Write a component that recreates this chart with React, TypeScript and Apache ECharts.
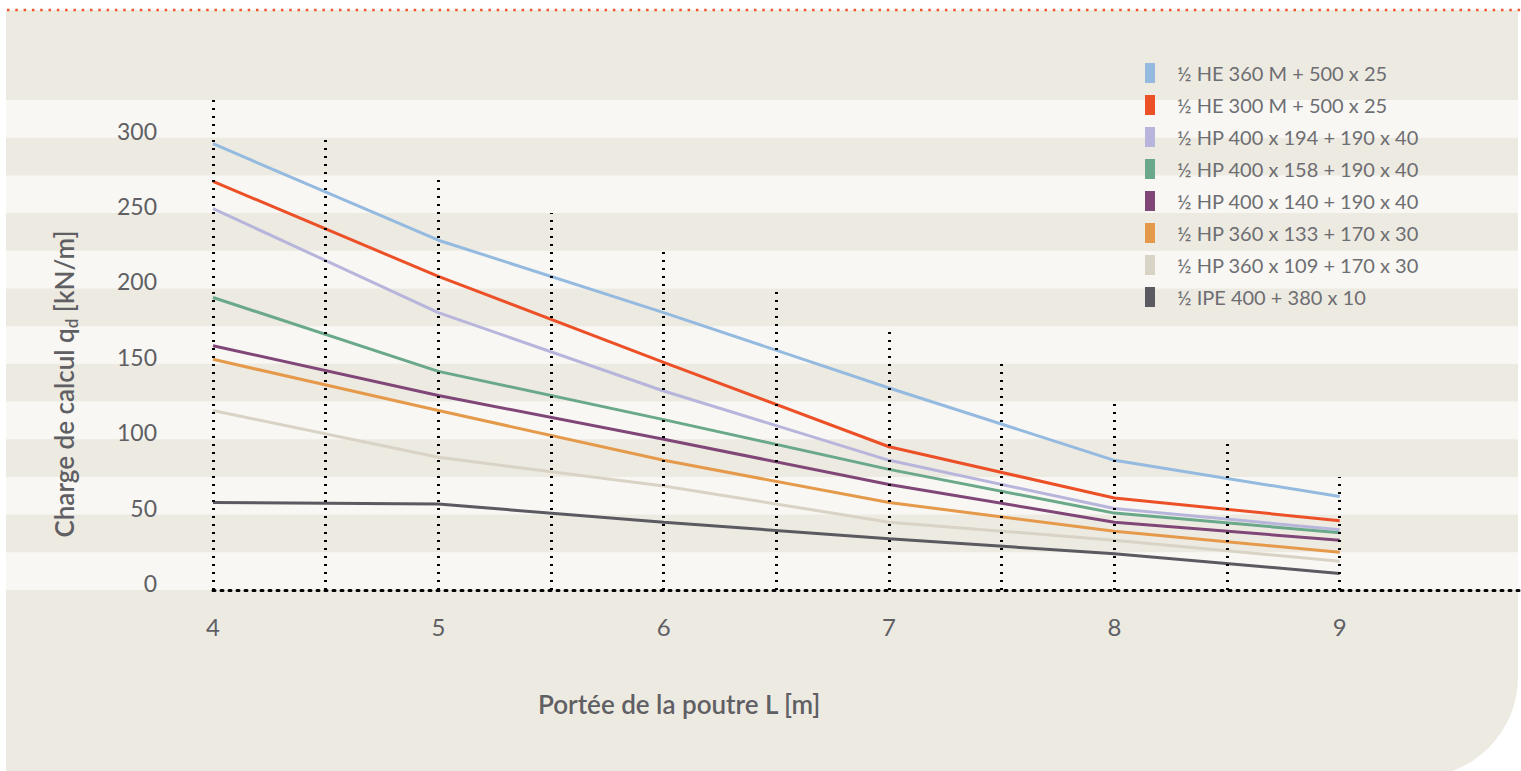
import React, { useEffect, useRef } from "react";
import * as echarts from "echarts";

const spans = [4, 5, 6, 7, 8, 9];
const seriesNames = [
  "½ HE 360 M + 500 x 25",
  "½ HE 300 M + 500 x 25",
  "½ HP 400 x 194 + 190 x 40",
  "½ HP 400 x 158 + 190 x 40",
  "½ HP 400 x 140 + 190 x 40",
  "½ HP 360 x 133 + 170 x 30",
  "½ HP 360 x 109 + 170 x 30",
  "½ IPE 400 + 380 x 10",
];
const he360 = [296, 232, 184, 134, 86, 62];
const he300 = [271, 208, 151, 95, 61, 46];
const hp194 = [253, 184, 132, 86, 54, 40];
const hp158 = [194, 145, 113, 80, 51, 38];
const hp140 = [162, 129, 100, 70, 45, 33];
const hp133 = [153, 119, 86, 58, 39, 25];
const hp109 = [119, 88, 69, 45, 33, 19];
const ipe400 = [58, 57, 45, 34, 24, 11];
const seriesValues = [he360, he300, hp194, hp158, hp140, hp133, hp109, ipe400];
const seriesColors = ["#94bae0", "#ec5027", "#b8b5dc", "#6aa88a", "#7f4677", "#e59a4b", "#d9d3c6", "#5b5a60"];

const dropX = [4, 4.5, 5, 5.5, 6, 6.5, 7, 7.5, 8, 8.5, 9];
const dropTop = [325, 300, 275, 250, 225, 200, 175, 150, 125, 100, 75];

const FONT = "Lato, 'Open Sans', sans-serif";
const TXT = "#5f5f64";

export default function App() {
  const ref = useRef<HTMLDivElement>(null);
  useEffect(() => {
    if (!ref.current) return;
    const chart = echarts.init(ref.current, undefined, { renderer: "svg" });
    const lineSeries = seriesNames.map((name, i) => ({
      name,
      type: "line",
      xAxisIndex: 0,
      yAxisIndex: 0,
      data: spans.map((x, j) => [x, seriesValues[i][j]]),
      symbol: "none",
      smooth: false,
      z: 3,
      lineStyle: { color: seriesColors[i], width: 3 },
      itemStyle: { color: seriesColors[i] },
      emphasis: { disabled: true },
    }));
    const dropSeries = {
      name: "drops",
      type: "line",
      xAxisIndex: 0,
      yAxisIndex: 0,
      data: [],
      symbol: "none",
      z: 4,
      markLine: {
        silent: true,
        symbol: "none",
        label: { show: false },
        lineStyle: { color: "#000", width: 3, type: [2, 6] },
        data: dropX.map((x, i) => [{ coord: [x, 0] }, { coord: [x, dropTop[i]] }]),
      },
    };
    chart.setOption({
      animation: false,
      backgroundColor: "transparent",
      textStyle: { fontFamily: FONT },
      grid: [
        { left: 213, right: 1, top: 100, bottom: 181 },
        { left: 6, right: 3, top: 100, bottom: 181 },
      ],
      xAxis: [
        {
          gridIndex: 0,
          type: "value",
          min: 4,
          max: 9.8,
          interval: 1,
          axisLine: { show: true, lineStyle: { color: "#000", width: 3, type: [2, 6] } },
          axisTick: { show: false },
          splitLine: { show: false },
          axisLabel: { color: TXT, fontSize: 24, fontFamily: FONT, margin: 24, showMaxLabel: false },
        },
        { gridIndex: 1, type: "value", min: 0, max: 1, show: false },
      ],
      yAxis: [
        {
          gridIndex: 0,
          type: "value",
          min: 0,
          max: 325,
          interval: 25,
          axisLine: { show: false },
          axisTick: { show: false },
          splitLine: { show: false },
          axisLabel: {
            color: TXT,
            fontSize: 23,
            fontFamily: FONT,
            margin: 56,
            verticalAlign: "bottom",
            lineHeight: 14,
            formatter: (v: number) => (v % 50 === 0 ? String(v) : ""),
          },
        },
        {
          gridIndex: 1,
          type: "value",
          min: 0,
          max: 325,
          interval: 25,
          axisLine: { show: false },
          axisTick: { show: false },
          axisLabel: { show: false },
          splitLine: { show: false },
          splitArea: { show: true, areaStyle: { color: ["#f8f7f3", "rgba(0,0,0,0)"] } },
        },
      ],
      legend: {
        orient: "vertical",
        left: 1140,
        top: 58,
        itemWidth: 10,
        itemHeight: 20,
        itemGap: 12,
        icon: "rect",
        data: seriesNames,
        selectedMode: false,
        textStyle: { color: "#6e6e72", fontSize: 20, fontFamily: FONT, fontWeight: 400, padding: [0, 0, 0, 17] },
      },
      graphic: [
        {
          type: "line",
          silent: true,
          z: 100,
          shape: { x1: 7, y1: 10, x2: 1521, y2: 10 },
          style: { stroke: "#f0562a", lineWidth: 2.5, lineDash: [2.5, 5.8] },
        },
        {
          type: "text",
          silent: true,
          z: 100,
          x: 538,
          y: 704,
          style: {
            text: "Portée de la poutre L [m]",
            fill: TXT,
            fontSize: 26,
            fontWeight: 600,
            fontFamily: FONT,
            textAlign: "left",
            textVerticalAlign: "middle",
          },
        },
        {
          type: "text",
          silent: true,
          z: 100,
          x: 64,
          y: 384,
          rotation: Math.PI / 2,
          style: {
            text: "{a|Charge de calcul q}{s|d}{a| [kN/m]}",
            textAlign: "center",
            textVerticalAlign: "middle",
            rich: {
              a: { fill: TXT, fontSize: 26, fontWeight: 600, fontFamily: FONT },
              s: { fill: TXT, fontSize: 17, fontWeight: 600, fontFamily: FONT, padding: [14, 0, 0, 0] },
            },
          },
        },
      ],
      series: [...lineSeries, dropSeries],
    });
    return () => chart.dispose();
  }, []);
  return (
    <div style={{ position: "fixed", left: 0, top: 0, width: 1521, height: 771, overflow: "hidden", background: "#fff" }}>
      <div
        style={{
          position: "absolute",
          left: 6,
          top: 10,
          width: 1512,
          height: 767,
          background: "#edeae2",
          borderBottomRightRadius: 100,
        }}
      />
      <div ref={ref} style={{ position: "absolute", left: 0, top: 0, width: 1521, height: 771 }} />
    </div>
  );
}
